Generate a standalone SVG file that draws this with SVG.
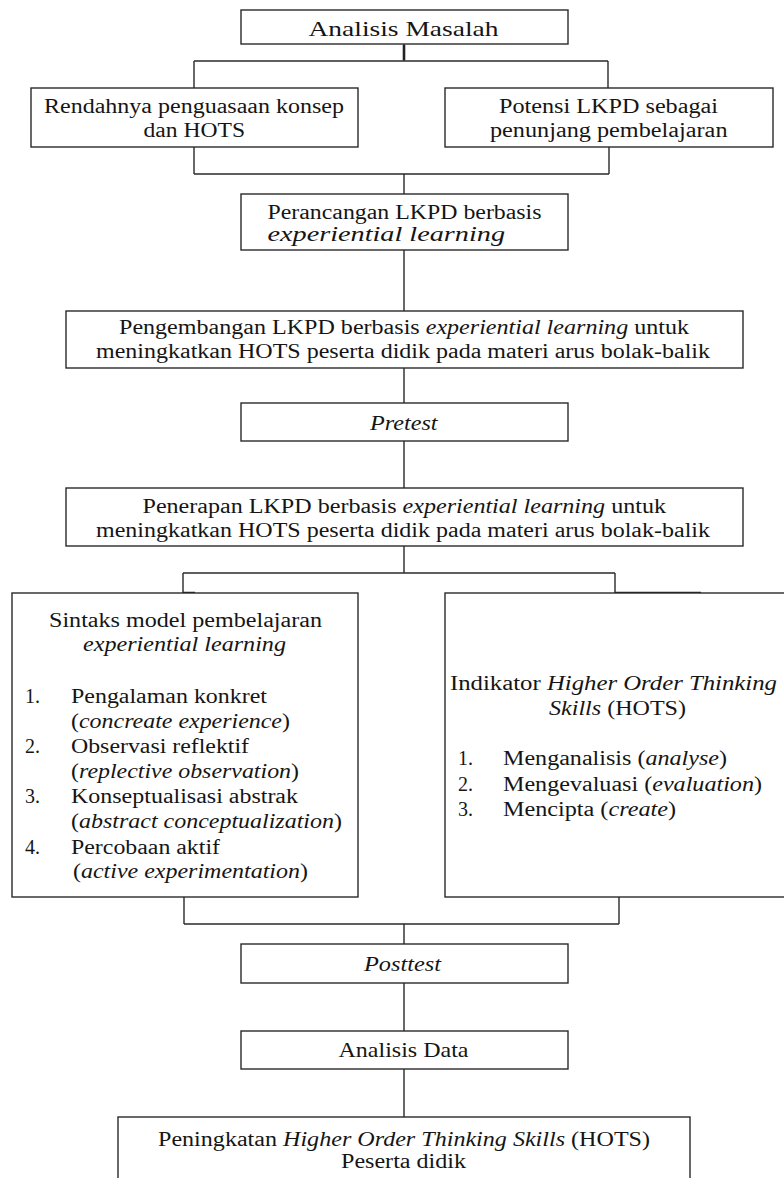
<svg xmlns="http://www.w3.org/2000/svg" width="784" height="1178" viewBox="0 0 784 1178">
<style>
.box{fill:#fff;stroke:#2a2a2a;stroke-width:1.4}
.ln{fill:none;stroke:#2a2a2a;stroke-width:1.4}
.thk{fill:none;stroke:#222;stroke-width:2.6}
.it{font-style:italic}
</style>
<rect width="784" height="1178" fill="#fff"/>
<g id="connectors">
<path class="ln" d="M404 44V61M194 61H608M194 61V88M608 61V88"/>
<path class="thk" d="M404 45V60"/>
<path class="ln" d="M194 147V174M609 147V174M194 174H609M404 174V194"/>
<path class="ln" d="M404 250V311M404 368V403M404 441V488M404 546V573"/>
<path class="ln" d="M183 573H615M183 573V593M615 573V593"/>
<path class="thk" d="M183 593H195M615 593H701"/>
<path class="ln" d="M184 897V924M619 897V924M184 924H619M404 924V944"/>
<path class="ln" d="M404 983V1031M404 1069V1117"/>
</g>
<g font-family="'Liberation Serif', 'Times New Roman', Times, serif" font-size="20" fill="#151515">
<g id="analisis-masalah">
<rect class="box" x="241" y="10" width="327" height="34"/>
<text x="308.5" y="36" font-size="21" textLength="190" lengthAdjust="spacingAndGlyphs">Analisis Masalah</text>
</g>
<g id="rendahnya">
<rect class="box" x="31" y="88" width="327" height="59"/>
<text x="44" y="113" textLength="300" lengthAdjust="spacingAndGlyphs">Rendahnya penguasaan konsep</text>
<text x="143.5" y="137" textLength="101.5" lengthAdjust="spacingAndGlyphs">dan HOTS</text>
</g>
<g id="potensi">
<rect class="box" x="445" y="88" width="328" height="59"/>
<text x="499" y="113" textLength="219" lengthAdjust="spacingAndGlyphs">Potensi LKPD sebagai</text>
<text x="490" y="137" textLength="237.5" lengthAdjust="spacingAndGlyphs">penunjang pembelajaran</text>
</g>
<g id="perancangan">
<rect class="box" x="241" y="194" width="327" height="56"/>
<text x="267.5" y="219" textLength="274" lengthAdjust="spacingAndGlyphs">Perancangan LKPD berbasis</text>
<text class="it" x="267.5" y="241" textLength="237.5" lengthAdjust="spacingAndGlyphs">experiential learning</text>
</g>
<g id="pengembangan">
<rect class="box" x="66" y="311" width="677" height="57"/>
<text x="119" y="334" textLength="570" lengthAdjust="spacingAndGlyphs">Pengembangan LKPD berbasis <tspan class="it">experiential learning</tspan> untuk</text>
<text x="96" y="358" textLength="614" lengthAdjust="spacingAndGlyphs">meningkatkan HOTS peserta didik pada materi arus bolak-balik</text>
</g>
<g id="pretest">
<rect class="box" x="241" y="403" width="327" height="38"/>
<text class="it" x="370" y="430" font-size="21" textLength="67.5" lengthAdjust="spacingAndGlyphs">Pretest</text>
</g>
<g id="penerapan">
<rect class="box" x="66" y="488" width="677" height="58"/>
<text x="142.5" y="513" textLength="523.5" lengthAdjust="spacingAndGlyphs">Penerapan LKPD berbasis <tspan class="it">experiential learning</tspan> untuk</text>
<text x="96" y="537" textLength="614" lengthAdjust="spacingAndGlyphs">meningkatkan HOTS peserta didik pada materi arus bolak-balik</text>
</g>
<g id="sintaks">
<rect class="box" x="12" y="593" width="346" height="304"/>
<text x="49" y="627" textLength="273" lengthAdjust="spacingAndGlyphs">Sintaks model pembelajaran</text>
<text class="it" x="83" y="651" textLength="203" lengthAdjust="spacingAndGlyphs">experiential learning</text>
<text x="25" y="703" textLength="15" lengthAdjust="spacingAndGlyphs">1.</text>
<text x="71" y="703" textLength="196" lengthAdjust="spacingAndGlyphs">Pengalaman konkret</text>
<text x="71" y="728" textLength="219" lengthAdjust="spacingAndGlyphs">(<tspan class="it">concreate experience</tspan>)</text>
<text x="25" y="753" textLength="15" lengthAdjust="spacingAndGlyphs">2.</text>
<text x="71" y="753" textLength="178" lengthAdjust="spacingAndGlyphs">Observasi reflektif</text>
<text x="71" y="778" textLength="228" lengthAdjust="spacingAndGlyphs">(<tspan class="it">replective observation</tspan>)</text>
<text x="25" y="803" textLength="15" lengthAdjust="spacingAndGlyphs">3.</text>
<text x="71" y="803" textLength="227" lengthAdjust="spacingAndGlyphs">Konseptualisasi abstrak</text>
<text x="71" y="828" textLength="271" lengthAdjust="spacingAndGlyphs">(<tspan class="it">abstract conceptualization</tspan>)</text>
<text x="25" y="854" textLength="15" lengthAdjust="spacingAndGlyphs">4.</text>
<text x="71" y="854" textLength="149" lengthAdjust="spacingAndGlyphs">Percobaan aktif</text>
<text x="73" y="878" textLength="235" lengthAdjust="spacingAndGlyphs">(<tspan class="it">active experimentation</tspan>)</text>
</g>
<g id="indikator">
<rect class="box" x="445" y="593" width="350" height="304"/>
<text x="450" y="690" textLength="327" lengthAdjust="spacingAndGlyphs">Indikator <tspan class="it">Higher Order Thinking</tspan></text>
<text x="549" y="715" textLength="137" lengthAdjust="spacingAndGlyphs"><tspan class="it">Skills</tspan> (HOTS)</text>
<text x="458" y="765" textLength="15" lengthAdjust="spacingAndGlyphs">1.</text>
<text x="503" y="765" textLength="224" lengthAdjust="spacingAndGlyphs">Menganalisis (<tspan class="it">analyse</tspan>)</text>
<text x="458" y="791" textLength="15" lengthAdjust="spacingAndGlyphs">2.</text>
<text x="503" y="791" textLength="259" lengthAdjust="spacingAndGlyphs">Mengevaluasi (<tspan class="it">evaluation</tspan>)</text>
<text x="458" y="816" textLength="15" lengthAdjust="spacingAndGlyphs">3.</text>
<text x="503" y="816" textLength="173" lengthAdjust="spacingAndGlyphs">Mencipta (<tspan class="it">create</tspan>)</text>
</g>
<g id="posttest">
<rect class="box" x="241" y="944" width="327" height="39"/>
<text class="it" x="364" y="971" font-size="21" textLength="77" lengthAdjust="spacingAndGlyphs">Posttest</text>
</g>
<g id="analisis-data">
<rect class="box" x="241" y="1031" width="327" height="38"/>
<text x="338.5" y="1057" font-size="21" textLength="130" lengthAdjust="spacingAndGlyphs">Analisis Data</text>
</g>
<g id="peningkatan">
<rect class="box" x="118" y="1117" width="572" height="80"/>
<text x="158" y="1146" textLength="492" lengthAdjust="spacingAndGlyphs">Peningkatan <tspan class="it">Higher Order Thinking Skills</tspan> (HOTS)</text>
<text x="341" y="1168" textLength="125" lengthAdjust="spacingAndGlyphs">Peserta didik</text>
</g>
</g>
</svg>
